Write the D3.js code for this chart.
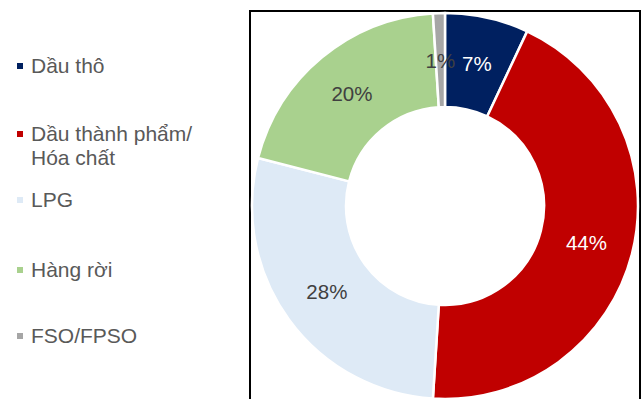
<!DOCTYPE html>
<html>
<head>
<meta charset="utf-8">
<script src="https://cdn.jsdelivr.net/npm/d3@7/dist/d3.min.js"></script>
<style>
  html, body { margin: 0; padding: 0; background: #fff; }
  svg { display: block; }
</style>
</head>
<body>
<svg id="chart" width="643" height="399"></svg>
<script>
// Cargo mix by segment (share of fleet, %)
const categories = ["Dầu thô", "Dầu thành phẩm/\nHóa chất", "LPG", "Hàng rời", "FSO/FPSO"];
const shares = [7, 44, 28, 20, 1];
const sliceColors = ["#002060", "#C00000", "#DEEAF6", "#A9D18E", "#A6A6A6"];
const labelColors = ["#ffffff", "#ffffff", "#404040", "#404040", "#404040"];

const svg = d3.select("#chart");
const font = "'Liberation Sans', Arial, sans-serif";

// Plot frame
svg.append("rect")
  .attr("x", 250).attr("y", 11)
  .attr("width", 390).attr("height", 400)
  .attr("fill", "none").attr("stroke", "#000").attr("stroke-width", 2);

// Donut
const cx = 445, cy = 206, outerR = 193, innerR = 99;
const pie = d3.pie().sort(null).value(d => d);
const arcs = pie(shares);
const arc = d3.arc().innerRadius(innerR).outerRadius(outerR);
const labelArc = d3.arc().innerRadius((innerR + outerR) / 2).outerRadius((innerR + outerR) / 2);

const g = svg.append("g").attr("transform", `translate(${cx},${cy})`);
g.selectAll("path.slice")
  .data(arcs)
  .join("path")
  .attr("class", "slice")
  .attr("d", arc)
  .attr("fill", (d, i) => sliceColors[i])
  .attr("stroke", "#fff")
  .attr("stroke-width", 2.5)
  .attr("stroke-linejoin", "round");

g.selectAll("text.val")
  .data(arcs)
  .join("text")
  .attr("class", "val")
  .attr("transform", d => {
    const [x, y] = labelArc.centroid(d);
    return `translate(${x},${y})`;
  })
  .attr("text-anchor", "middle")
  .attr("dominant-baseline", "central")
  .attr("font-family", font)
  .attr("font-size", "20.5px")
  .attr("fill", (d, i) => labelColors[i])
  .text(d => d.data + "%");

// Legend
const legendRows = [73, 141, 207, 277, 343];
const legend = svg.append("g");
categories.forEach((name, i) => {
  const base = legendRows[i];
  legend.append("rect")
    .attr("x", 17).attr("y", base - 10)
    .attr("width", 6).attr("height", 6)
    .attr("fill", sliceColors[i]);
  const t = legend.append("text")
    .attr("x", 31).attr("y", base)
    .attr("font-family", font)
    .attr("font-size", "21px")
    .attr("fill", "#595959");
  name.split("\n").forEach((line, j) => {
    t.append("tspan").attr("x", 31).attr("dy", j === 0 ? 0 : 24).text(line);
  });
});
</script>
</body>
</html>
